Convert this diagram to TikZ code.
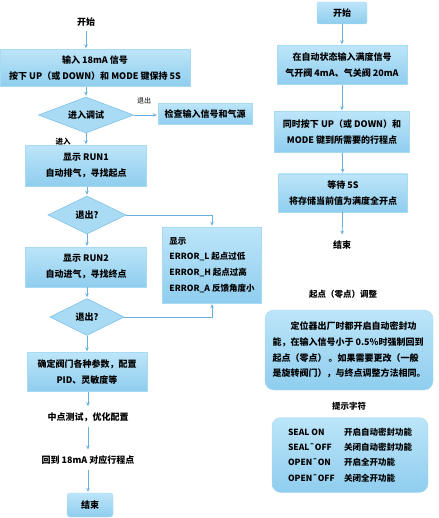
\documentclass[tikz,border=0pt]{standalone}
\usepackage{fontspec}
\setmainfont{Noto Sans CJK SC}
\usetikzlibrary{shapes.geometric, arrows.meta, positioning}
\definecolor{boxtop}{HTML}{BCE5F9}
\definecolor{boxbot}{HTML}{8FCDEE}
\definecolor{boxedge}{HTML}{A9DAF4}
\definecolor{diafill}{HTML}{A9DBF4}
\definecolor{diaedge}{HTML}{7FC2E8}
\definecolor{flowline}{HTML}{6AB0DC}

\begin{document}
\begin{tikzpicture}[
        x=1pt, y=-1pt,
        every node/.style = {font=\fontsize{9}{16}\selectfont\bfseries},
        box/.style = {rectangle, top color=boxtop, bottom color=boxbot, draw=boxedge, line width=0.4pt, align=center, inner sep=2pt},
        decision/.style = {diamond, fill=diafill, draw=diaedge, line width=0.6pt, inner sep=0pt, aspect=2.5},
        note/.style = {box, rounded corners=9pt},
        plain/.style = {align=center, inner sep=5pt},
        tag/.style = {inner sep=1pt, font=\fontsize{7}{8}\selectfont},
        arrow/.style = {draw=flowline, line width=0.8pt, -{Stealth[length=4pt, width=3.5pt]}, shorten >=1pt}
    ]
        \useasboundingbox (0,0) rectangle (438,518);

        % === Left Flow: zero point calibration ===
        \node (start1) [plain] at (86,22) {开始};

        \node (input) [box, minimum width=190pt, minimum height=37pt] at (95,68) {输入 18mA 信号\\按下 UP（或 DOWN）和 MODE 键保持 5S};

        \node (enter) [decision, minimum width=95pt, minimum height=36pt] at (86,115) {进入调试};

        \node (check) [box, minimum width=94pt, minimum height=21pt] at (205,114) {检查输入信号和气源};

        \node (run1) [box, minimum width=121pt, minimum height=41pt] at (86,166) {显示 RUN1\\自动排气，寻找起点};

        \node (quit1) [decision, minimum width=78pt, minimum height=38pt] at (87,215) {退出?};

        \node (run2) [box, minimum width=121pt, minimum height=40pt] at (86,267) {显示 RUN2\\自动进气，寻找终点};

        \node (quit2) [decision, minimum width=74pt, minimum height=37pt] at (87,317) {退出?};

        \node (errors) [box, minimum width=99pt, minimum height=76pt, align=left, font=\fontsize{8.5}{15.7}\selectfont\bfseries] at (212,265) {显示\\ERROR\_L 起点过低\\ERROR\_H 起点过高\\ERROR\_A 反馈角度小};

        \node (params) [box, minimum width=120pt, minimum height=39pt] at (87,372) {确定阀门各种参数，配置\\PID、灵敏度等};

        \node (midtest) [plain] at (88,417) {中点测试，优化配置};

        \node (back) [plain] at (88,460) {回到 18mA 对应行程点};

        \node (end1) [box, rounded corners=3pt, minimum width=46pt, minimum height=24pt] at (90,505) {结束};

        % === Right Flow: full open point ===
        \node (start2) [box, rounded corners=2pt, minimum width=50pt, minimum height=22pt] at (342,13) {开始};

        \node (fullsig) [box, minimum width=130pt, minimum height=39pt] at (342,65) {在自动状态输入满度信号\\气开阀 4mA、气关阀 20mA};

        \node (press) [box, minimum width=135pt, minimum height=41pt] at (342,132) {同时按下 UP（或 DOWN）和\\MODE 键到所需要的行程点};

        \node (wait) [box, minimum width=129pt, minimum height=38pt] at (343,193) {等待 5S\\将存储当前值为满度全开点};

        \node (end2) [plain] at (342,245) {结束};

        % === Notes ===
        \node (zerotitle) [plain, font=\fontsize{8.5}{10}\selectfont\bfseries] at (343,294) {起点（零点）调整};

        \node (zeronote) [note, minimum width=168pt, minimum height=80pt, align=left, font=\fontsize{9}{15.7}\selectfont\bfseries] at (349,350) {\hspace*{2em}定位器出厂时都开启自动密封功\\能，在输入信号小于 0.5\%时强制回到\\起点（零点） 。如果需要更改（一般\\是旋转阀门），与终点调整方法相同。};

        \node (tiptitle) [plain, font=\fontsize{8.5}{10}\selectfont\bfseries] at (349,406) {提示字符};

        \node (tips) [note, minimum width=156pt, minimum height=75pt, align=left, font=\fontsize{8.5}{15.3}\selectfont\bfseries] at (350,455) {\makebox[56pt][l]{SEAL ON}开启自动密封功能\\\makebox[56pt][l]{SEAL¯OFF}关闭自动密封功能\\\makebox[56pt][l]{OPEN¯ON}开启全开功能\\\makebox[56pt][l]{OPEN¯OFF}关闭全开功能};

        % === Arrows ===
        % Left
        \draw [arrow] (start1) -- (start1 |- input.north);
        \draw [arrow] (enter |- input.south) -- (enter);
        \draw [arrow] (enter.east) -- (enter.east -| check.west);
        \node (exitlabel) [tag] at (144,101) {退出};
        \draw [arrow] (enter) -- (run1);
        \node (enterlabel) [tag, font=\fontsize{7.5}{8}\selectfont\bfseries] at (63,142) {进入};
        \draw [arrow] (quit1 |- run1.south) -- (quit1);
        \draw [arrow] (quit1.east) -- (errors.north |- quit1.east) -- (errors.north);
        \draw [arrow] (quit1) -- (quit1 |- run2.north);
        \draw [arrow] (quit2 |- run2.south) -- (quit2);
        \draw [arrow] (quit2.east) -- (errors.south |- quit2.east) -- (errors.south);
        \draw [arrow] (quit2) -- (quit2 |- params.north);
        \draw [arrow] (midtest |- params.south) -- (midtest);
        \draw [arrow] (midtest) -- (back);
        \draw [arrow] (back) -- (back |- end1.north);

        % Right
        \draw [arrow] (start2) -- (fullsig);
        \draw [arrow] (fullsig) -- (press);
        \draw [arrow] (press) -- (wait);
        \draw [arrow] (wait) -- (end2);

    \end{tikzpicture}
\end{document}
